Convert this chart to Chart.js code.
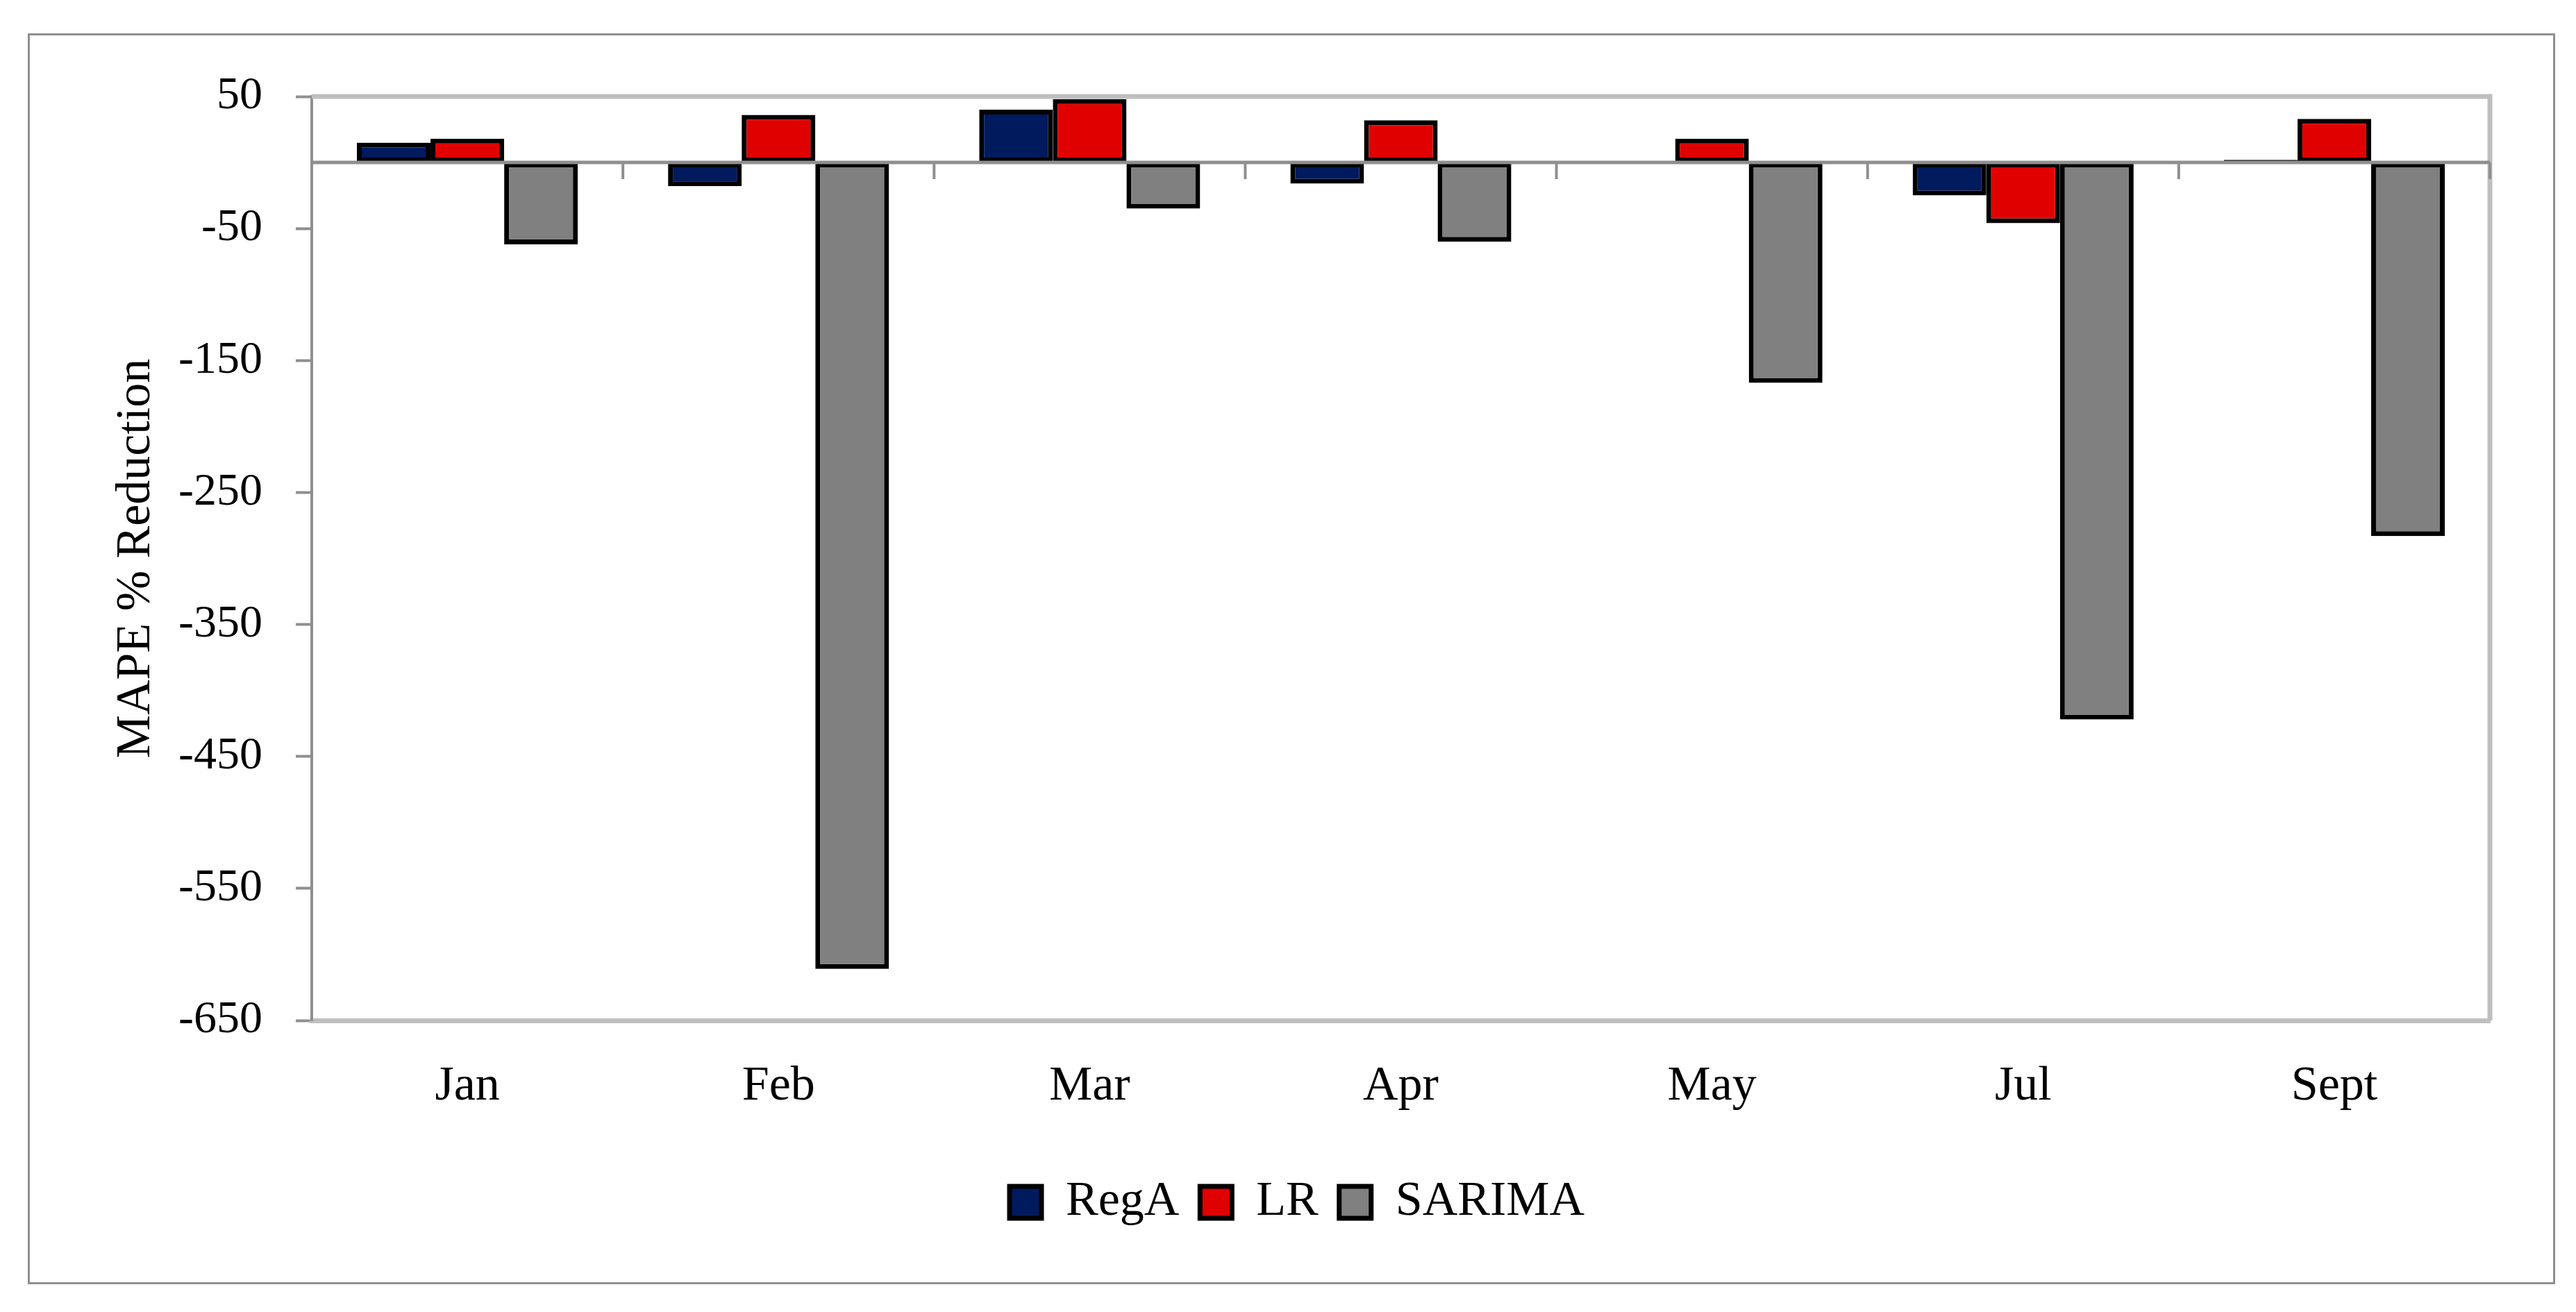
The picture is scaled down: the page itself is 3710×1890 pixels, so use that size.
<!DOCTYPE html>
<html>
<head>
<meta charset="utf-8">
<title>MAPE % Reduction</title>
<script src="https://cdn.jsdelivr.net/npm/chart.js@4.4.1/dist/chart.umd.min.js"></script>
<style>
  html, body { margin: 0; padding: 0; background: #fff; }
  #frame { position: absolute; left: 40px; top: 48px; width: 3634px; height: 1796px; border: 3px solid #8f8f8f; }
  #wrap { position: absolute; left: 0; top: 0; width: 3710px; height: 1890px; }
</style>
</head>
<body>
<div id="frame"></div>
<div id="wrap"><canvas id="mapeChart" width="3710" height="1890"></canvas></div>
<script>
// months on the category axis
const months = ['Jan', 'Feb', 'Mar', 'Apr', 'May', 'Jul', 'Sept'];

// MAPE % reduction per model
const regA   = [15, -18, 40, -16, -1, -25, 2];
const lr     = [18, 36, 48, 32, 18, -46, 33];
const sarima = [-62, -611, -35, -60, -167, -422, -283];

// value axis range and tick step
const yMin = -650;
const yMax = 50;
const yStep = 100;

const serif = "'Liberation Serif', 'Times New Roman', serif";

// plot frame, the horizontal axis at zero and its little category ticks
const axisExtras = {
  id: 'axisExtras',
  afterDatasetsDraw(chart) {
    const { ctx, chartArea, scales: { x, y } } = chart;
    const zeroY = y.getPixelForValue(0);
    ctx.save();

    ctx.strokeStyle = '#bfbfbf';
    ctx.lineWidth = 7;
    ctx.beginPath();
    ctx.moveTo(chartArea.left, chartArea.top);
    ctx.lineTo(chartArea.right, chartArea.top);
    ctx.lineTo(chartArea.right, chartArea.bottom);
    ctx.stroke();

    ctx.strokeStyle = '#8f8f8f';
    ctx.lineWidth = 5;
    ctx.beginPath();
    ctx.moveTo(chartArea.left, zeroY);
    ctx.lineTo(chartArea.right, zeroY);
    ctx.stroke();

    ctx.lineWidth = 4;
    for (let i = 1; i <= months.length; i++) {
      const px = i < months.length
        ? (x.getPixelForValue(i - 1) + x.getPixelForValue(i)) / 2
        : chartArea.right;
      ctx.beginPath();
      ctx.moveTo(px, zeroY);
      ctx.lineTo(px, zeroY + 24);
      ctx.stroke();
    }
    ctx.restore();
  }
};

const ctx = document.getElementById('mapeChart').getContext('2d');

const mapeChart = new Chart(ctx, {
  type: 'bar',
  data: {
    labels: months,
    datasets: [
      { label: 'RegA', data: regA, backgroundColor: '#001a5e' },
      { label: 'LR', data: lr, backgroundColor: '#e00000' },
      { label: 'SARIMA', data: sarima, backgroundColor: '#808080' }
    ]
  },
  options: {
    responsive: false,
    devicePixelRatio: 1,
    animation: false,
    layout: {
      padding: { left: 150, right: 124, top: 139, bottom: 113 }
    },
    datasets: {
      bar: {
        borderColor: '#000000',
        borderWidth: 7,
        borderSkipped: false,
        categoryPercentage: 0.71,
        barPercentage: 1.0
      }
    },
    scales: {
      x: {
        grid: { drawOnChartArea: false, drawTicks: false },
        border: { color: '#bfbfbf', width: 7 },
        ticks: {
          color: '#000',
          font: { family: serif, size: 70 },
          padding: 54,
          maxRotation: 0,
          minRotation: 0
        },
        afterFit(scale) { scale.height = 197; }
      },
      y: {
        min: yMin,
        max: yMax,
        grid: {
          drawOnChartArea: false,
          drawTicks: true,
          tickLength: 23,
          tickColor: '#8f8f8f',
          tickWidth: 4
        },
        border: { color: '#8f8f8f', width: 4 },
        ticks: {
          stepSize: yStep,
          color: '#000',
          font: { family: serif, size: 66 },
          padding: 48
        },
        title: {
          display: true,
          text: 'MAPE % Reduction',
          color: '#000',
          font: { family: serif, size: 70 },
          padding: { top: 5, bottom: 0 }
        },
        afterFit(scale) { scale.width = 299; }
      }
    },
    plugins: {
      legend: {
        position: 'bottom',
        labels: {
          color: '#000',
          font: { family: serif, size: 70 },
          boxWidth: 46,
          boxHeight: 46,
          padding: 30
        }
      },
      tooltip: { enabled: false }
    }
  },
  plugins: [axisExtras]
});
</script>
</body>
</html>
